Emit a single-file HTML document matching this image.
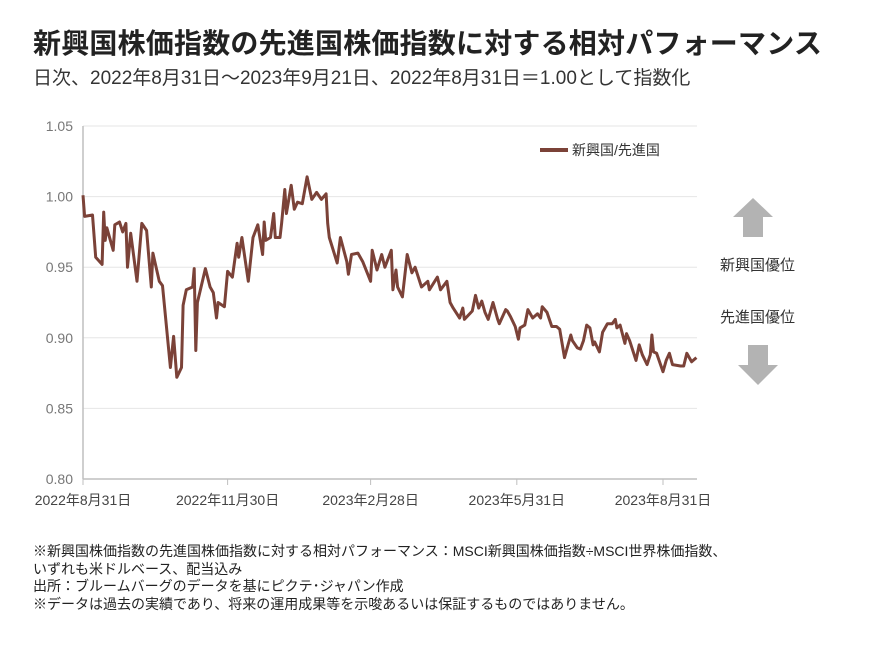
<!DOCTYPE html>
<html><head><meta charset="utf-8"><style>
body{margin:0;background:#fff;width:891px;height:662px;overflow:hidden;font-family:"Liberation Sans","Noto Sans CJK JP",sans-serif;color:#222}
.t{position:absolute;white-space:nowrap}
</style></head><body>
<div class="t" style="left:33px;top:22px;font-size:28px;font-weight:bold;color:#222;letter-spacing:0.2px">新興国株価指数の先進国株価指数に対する相対パフォーマンス</div>
<div class="t" style="left:33px;top:63px;font-size:19px;color:#333">日次、2022年8月31日～2023年9月21日、2022年8月31日＝1.00として指数化</div>
<svg width="891" height="662" style="position:absolute;left:0;top:0">
<g id="grid"></g><g id="axes"></g><g id="series"></g>
<g>
<line x1="540" y1="150" x2="568" y2="150" stroke="#7b4238" stroke-width="4"/>
<text x="572" y="155" font-size="14" fill="#333">新興国/先進国</text></g>
<polygon points="753,198 773,217 763,217 763,237 743,237 743,217 733,217" fill="#b3b3b3"/>
<text x="720" y="270" font-size="15" fill="#333">新興国優位</text>
<text x="720" y="322" font-size="15" fill="#333">先進国優位</text>
<polygon points="758,385 778,365 768,365 768,345 748,345 748,365 738,365" fill="#b3b3b3"/>
</svg>
<div class="t" style="left:33px;top:543px;font-size:14px;line-height:17.5px;color:#222">※新興国株価指数の先進国株価指数に対する相対パフォーマンス：MSCI新興国株価指数÷MSCI世界株価指数、<br>いずれも米ドルベース、配当込み<br>出所：ブルームバーグのデータを基にピクテ･ジャパン作成<br>※データは過去の実績であり、将来の運用成果等を示唆あるいは保証するものではありません。</div>
<script>
const days=[0,1,6,8,12,13,14,15,19,20,23,25,27,28,30,34,37,40,43,44,47,48,50,55,57,59,62,63,65,69,70,71,72,77,80,82,84,85,89,91,94,97,98,100,104,107,110,113,114,115,118,120,121,124,125,127,128,131,133,135,138,141,144,147,150,153,154,155,160,162,166,167,169,173,176,181,182,185,188,190,194,195,197,198,201,204,207,209,213,217,218,223,225,229,231,233,237,239,240,245,247,249,251,253,255,258,261,262,266,267,269,272,274,275,278,280,283,286,288,289,292,295,298,300,303,307,308,311,313,315,317,319,321,322,325,327,330,333,335,336,338,341,342,344,348,350,352,355,357,358,359,361,365,367,369,371,376,378,380,383,386];
const values=[1.001,0.986,0.987,0.957,0.952,0.989,0.969,0.978,0.962,0.980,0.982,0.975,0.981,0.950,0.974,0.940,0.981,0.976,0.936,0.960,0.945,0.940,0.937,0.879,0.901,0.872,0.879,0.923,0.934,0.936,0.949,0.891,0.925,0.949,0.936,0.932,0.914,0.925,0.922,0.947,0.943,0.967,0.957,0.971,0.940,0.971,0.980,0.959,0.982,0.969,0.971,0.988,0.971,0.971,0.981,1.005,0.988,1.008,0.991,0.996,0.995,1.014,0.998,1.003,0.998,1.002,0.981,0.971,0.953,0.971,0.954,0.945,0.959,0.960,0.954,0.940,0.962,0.948,0.959,0.950,0.962,0.934,0.948,0.936,0.929,0.959,0.946,0.950,0.936,0.940,0.934,0.943,0.934,0.940,0.925,0.921,0.914,0.921,0.913,0.919,0.930,0.921,0.926,0.918,0.913,0.925,0.913,0.910,0.920,0.919,0.915,0.908,0.899,0.907,0.909,0.920,0.914,0.917,0.914,0.922,0.918,0.908,0.908,0.906,0.886,0.902,0.898,0.893,0.892,0.898,0.909,0.907,0.895,0.897,0.890,0.904,0.910,0.910,0.913,0.907,0.909,0.896,0.903,0.898,0.884,0.895,0.888,0.881,0.888,0.902,0.890,0.889,0.876,0.884,0.889,0.881,0.880,0.880,0.889,0.883,0.886];
const yTicks=[0.80,0.85,0.90,0.95,1.00,1.05];
const xTickDays=[0,91,181,273,365];
const xTickLabels=["2022年8月31日","2022年11月30日","2023年2月28日","2023年5月31日","2023年8月31日"];
const NS="http://www.w3.org/2000/svg";
const X0=83,X1=697,Y0=479,Y1=126;
const xs=d=>X0+d*(663-83)/365;
const ys=v=>Y0-(v-0.80)/(1.05-0.80)*(Y0-Y1);
function mk(tag,attrs,parent){const e=document.createElementNS(NS,tag);for(const k in attrs)e.setAttribute(k,attrs[k]);parent.appendChild(e);return e;}
const grid=document.getElementById('grid'),axes=document.getElementById('axes'),series=document.getElementById('series');
yTicks.forEach(v=>{
 if(v>0.8){const l=mk('line',{x1:X0,x2:X1,y1:ys(v),y2:ys(v),stroke:'#e6e6e6','stroke-width':1},grid);
 
 }
 const t=mk('text',{x:X0-10,y:ys(v)+5,'font-size':14,'text-anchor':'end',fill:'#777'},axes);
 t.textContent=v.toFixed(2);
 
 
});
const ya=mk('line',{x1:X0,x2:X0,y1:Y1,y2:Y0,stroke:'#bfbfbf','stroke-width':1.5},axes);


const xa=mk('line',{x1:X0,x2:X1,y1:Y0,y2:Y0,stroke:'#bfbfbf','stroke-width':1.5},axes);


xTickDays.forEach((d,i)=>{
 mk('line',{x1:xs(d),x2:xs(d),y1:Y0,y2:Y0+6,stroke:'#bfbfbf'},axes);
 const t=mk('text',{x:xs(d),y:Y0+26,'font-size':14,'text-anchor':'middle',fill:'#444'},axes);
 t.textContent=xTickLabels[i];
 
 
});
const p=mk('polyline',{points:days.map((d,i)=>xs(d).toFixed(1)+','+ys(values[i]).toFixed(1)).join(' '),fill:'none',stroke:'#7b4238','stroke-width':3,'stroke-linejoin':'round'},series);


</script>
</body></html>
